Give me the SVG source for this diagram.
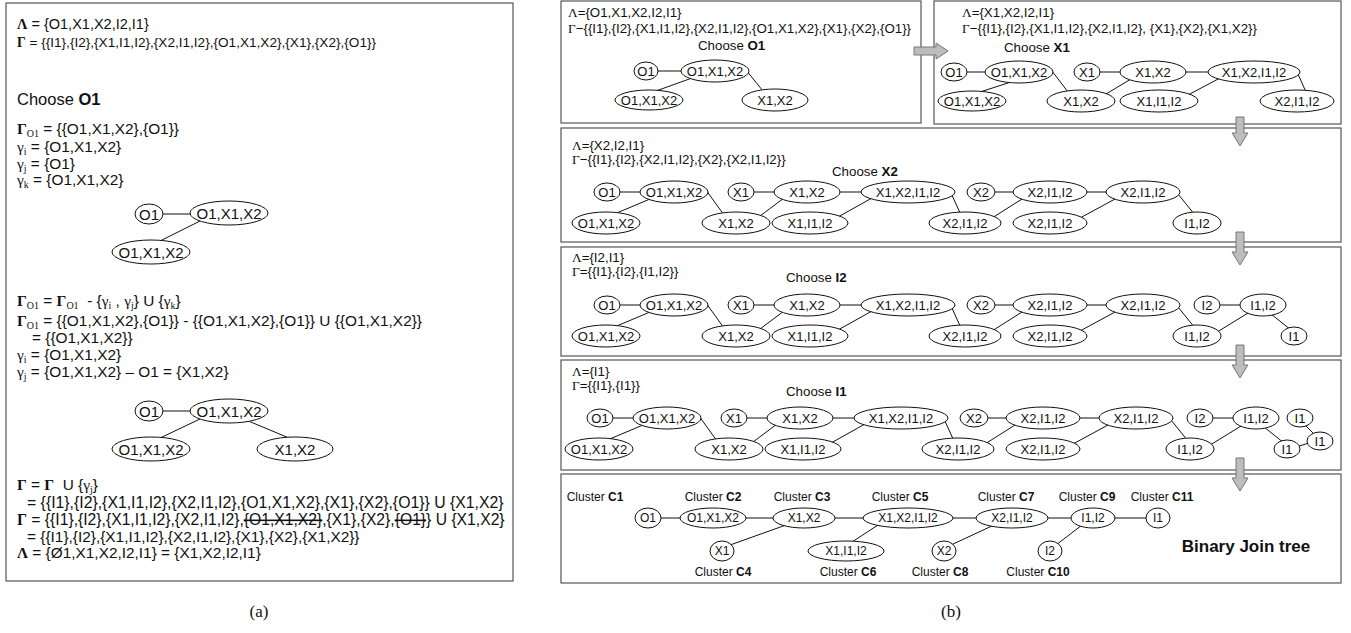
<svg xmlns="http://www.w3.org/2000/svg" width="1351" height="633" viewBox="0 0 1351 633">
<style>
text{font-family:"Liberation Sans",Arial,Helvetica,sans-serif;fill:#111}
.t{font-size:15.4px}
.p{font-size:13.3px}
.g{font-family:"Liberation Serif","Times New Roman",serif}
.gb{font-family:"Liberation Serif","Times New Roman",serif;font-weight:bold}
.sub{font-family:"Liberation Serif","Times New Roman",serif;font-size:10px}
.bs{font-family:"Liberation Serif","Times New Roman",serif;font-size:10px;baseline-shift:-3px}
.b{font-weight:bold}
.s{text-decoration:line-through}
.box{fill:none;stroke:#555;stroke-width:1.2}
.arr{fill:#bdbdbd;stroke:#777;stroke-width:1}
.n ellipse{fill:#fff;stroke:#111;stroke-width:1}
.n text{font-size:13px;text-anchor:middle}
.L text{font-size:15px}
.R text{font-size:12px}
.c line{stroke:#111;stroke-width:1}
.cl{font-size:12px;text-anchor:middle}
.cap{font-family:"Liberation Serif","Times New Roman",serif;font-size:17px;text-anchor:middle}
</style>

<!-- frames -->
<g id="frames">
<rect class="box" x="6" y="3" width="507" height="578"/>
<rect class="box" x="561" y="1" width="360" height="122"/>
<rect class="box" x="934" y="1" width="407" height="123"/>
<rect class="box" x="561" y="128" width="780" height="114"/>
<rect class="box" x="561" y="247" width="780" height="109"/>
<rect class="box" x="561" y="360" width="780" height="110"/>
<rect class="box" x="561" y="474" width="780" height="109"/>
</g>

<!-- left panel texts -->
<g id="panel-a-text">
<text class="t" x="17" y="29" style="font-size:14.5px"><tspan class="gb">Λ</tspan> = {O1,X1,X2,I2,I1}</text>
<text class="t" x="17" y="47" style="font-size:13.6px"><tspan class="gb">Γ</tspan> = {{I1},{I2},{X1,I1,I2},{X2,I1,I2},{O1,X1,X2},{X1},{X2},{O1}}</text>
<text class="t" x="17" y="105" style="font-size:16.5px">Choose <tspan class="b">O1</tspan></text>
<text class="t" x="17" y="134"><tspan class="gb">Γ</tspan><tspan class="sub" dy="3">O1</tspan><tspan dy="-3"> = {{O1,X1,X2},{O1}}</tspan></text>
<text class="t" x="17" y="152"><tspan class="g">γ</tspan><tspan class="sub" dy="3">i</tspan><tspan dy="-3"> = {O1,X1,X2}</tspan></text>
<text class="t" x="17" y="169"><tspan class="g">γ</tspan><tspan class="sub" dy="3">j</tspan><tspan dy="-3"> = {O1}</tspan></text>
<text class="t" x="17" y="185"><tspan class="g">γ</tspan><tspan class="sub" dy="3">k</tspan><tspan dy="-3"> = {O1,X1,X2}</tspan></text>

<text class="t" x="17" y="306"><tspan class="gb">Γ</tspan><tspan class="bs">O1</tspan> = <tspan class="gb">Γ</tspan><tspan class="bs">O1</tspan> &#160;- {<tspan class="g">γ</tspan><tspan class="bs">i</tspan> , <tspan class="g">γ</tspan><tspan class="bs">j</tspan>} U {<tspan class="g">γ</tspan><tspan class="bs">k</tspan>}</text>
<text class="t" x="17" y="326"><tspan class="gb">Γ</tspan><tspan class="sub" dy="3">O1</tspan><tspan dy="-3"> = {{O1,X1,X2},{O1}} - {{O1,X1,X2},{O1}} U {{O1,X1,X2}}</tspan></text>
<text class="t" x="32" y="343">= {{O1,X1,X2}}</text>
<text class="t" x="17" y="360"><tspan class="g">γ</tspan><tspan class="sub" dy="3">i</tspan><tspan dy="-3"> = {O1,X1,X2}</tspan></text>
<text class="t" x="17" y="377"><tspan class="g">γ</tspan><tspan class="sub" dy="3">j</tspan><tspan dy="-3"> = {O1,X1,X2} – O1 = {X1,X2}</tspan></text>

<text class="t" x="17" y="490"><tspan class="gb">Γ</tspan> = <tspan class="gb">Γ</tspan> &#160;U {<tspan class="g">γ</tspan><tspan class="sub" dy="3">j</tspan><tspan dy="-3">}</tspan></text>
<text class="t" x="27" y="508" style="font-size:15.8px">= {{I1},{I2},{X1,I1,I2},{X2,I1,I2},{O1,X1,X2},{X1},{X2},{O1}} U {X1,X2}</text>
<text class="t" x="17" y="525" style="font-size:15.7px"><tspan class="gb">Γ</tspan> = {{I1},{I2},{X1,I1,I2},{X2,I1,I2},<tspan class="s">{O1,X1,X2}</tspan>,{X1},{X2},<tspan class="s">{O1}</tspan>} U {X1,X2}</text>
<text class="t" x="27" y="542">= {{I1},{I2},{X1,I1,I2},{X2,I1,I2},{X1},{X2},{X1,X2}}</text>
<text class="t" x="17" y="558"><tspan class="gb">Λ</tspan> = {Ø1,X1,X2,I2,I1} = {X1,X2,I2,I1}</text>
</g>

<!-- right panel texts -->
<g id="panel-b-text">
<text class="p" x="568" y="17"><tspan class="g">Λ</tspan>={O1,X1,X2,I2,I1}</text>
<text class="p" x="568" y="33"><tspan class="g">Γ</tspan>−{{I1},{I2},{X1,I1,I2},{X2,I1,I2},{O1,X1,X2},{X1},{X2},{O1}}</text>
<text class="p" x="698" y="50">Choose <tspan class="b">O1</tspan></text>

<text class="p" x="962" y="17"><tspan class="g">Λ</tspan>={X1,X2,I2,I1}</text>
<text class="p" x="962" y="33"><tspan class="g">Γ</tspan>−{{I1},{I2},{X1,I1,I2},{X2,I1,I2}, {X1},{X2},{X1,X2}}</text>
<text class="p" x="1004" y="52">Choose <tspan class="b">X1</tspan></text>

<text class="p" x="572" y="150"><tspan class="g">Λ</tspan>={X2,I2,I1}</text>
<text class="p" x="572" y="164"><tspan class="g">Γ</tspan>−{{I1},{I2},{X2,I1,I2},{X2},{X2,I1,I2}}</text>
<text class="p" x="832" y="176">Choose <tspan class="b">X2</tspan></text>

<text class="p" x="572" y="262"><tspan class="g">Λ</tspan>={I2,I1}</text>
<text class="p" x="572" y="276"><tspan class="g">Γ</tspan>={{I1},{I2},{I1,I2}}</text>
<text class="p" x="786" y="282">Choose <tspan class="b">I2</tspan></text>

<text class="p" x="572" y="376"><tspan class="g">Λ</tspan>={I1}</text>
<text class="p" x="572" y="390"><tspan class="g">Γ</tspan>={{I1},{I1}}</text>
<text class="p" x="786" y="396">Choose <tspan class="b">I1</tspan></text>

<text x="1246" y="552" style="font-size:17px;font-weight:bold;text-anchor:middle">Binary Join tree</text>
</g>

<!-- arrows -->
<g id="arrows">
<polygon class="arr" points="914,47 936,47 936,43 948,51 936,59 936,55 914,55"/>
<polygon class="arr" points="1236,117 1244,117 1244,133 1248,133 1240,146 1232,133 1236,133"/>
<polygon class="arr" points="1236,232 1244,232 1244,252 1248,252 1240,265 1232,252 1236,252"/>
<polygon class="arr" points="1236,345 1244,345 1244,365 1248,365 1240,378 1232,365 1236,365"/>
<polygon class="arr" points="1236,458 1244,458 1244,478 1248,478 1240,491 1232,478 1236,478"/>
</g>

<!-- connectors -->
<g id="connectors" class="c">
<g id="c-a1"><line x1="161" y1="214" x2="192" y2="214"/><line x1="202" y1="220" x2="160" y2="241"/></g>
<g id="c-a2"><line x1="161" y1="411" x2="192" y2="411"/><line x1="200" y1="419" x2="160" y2="438"/><line x1="246" y1="420" x2="289" y2="438"/></g>
<g id="c-p1"><line x1="656" y1="71" x2="683" y2="71"/><line x1="692" y1="78" x2="656" y2="91"/><line x1="746" y1="70" x2="763" y2="91"/></g>
<g id="c-p2"><line x1="965" y1="72" x2="987" y2="72"/><line x1="1011" y1="82" x2="980" y2="92"/><line x1="1052" y1="71" x2="1068" y2="92"/><line x1="1098" y1="72" x2="1122" y2="72"/><line x1="1106" y1="94" x2="1131" y2="79"/><line x1="1184" y1="72" x2="1210" y2="72"/><line x1="1188" y1="95" x2="1220" y2="78"/><line x1="1298" y1="74" x2="1306" y2="92"/></g>
<g id="c-r2">
<line x1="618" y1="192" x2="642" y2="192"/><line x1="650" y1="199" x2="612" y2="215"/><line x1="706" y1="190" x2="724" y2="215"/><line x1="752" y1="192" x2="776" y2="192"/><line x1="760" y1="216" x2="784" y2="198"/><line x1="838" y1="192" x2="863" y2="192"/><line x1="838" y1="217" x2="872" y2="198"/><line x1="951" y1="193" x2="961" y2="215"/><line x1="993" y1="192" x2="1015" y2="192"/><line x1="992" y1="218" x2="1022" y2="199"/><line x1="1085" y1="192" x2="1108" y2="192"/><line x1="1080" y1="218" x2="1115" y2="199"/><line x1="1178" y1="194" x2="1195" y2="215"/>
</g>
<g id="c-r3" transform="translate(0,113)">
<line x1="618" y1="192" x2="642" y2="192"/><line x1="650" y1="199" x2="612" y2="215"/><line x1="706" y1="190" x2="724" y2="215"/><line x1="752" y1="192" x2="776" y2="192"/><line x1="760" y1="216" x2="784" y2="198"/><line x1="838" y1="192" x2="863" y2="192"/><line x1="838" y1="217" x2="872" y2="198"/><line x1="951" y1="193" x2="961" y2="215"/><line x1="993" y1="192" x2="1015" y2="192"/><line x1="992" y1="218" x2="1022" y2="199"/><line x1="1085" y1="192" x2="1108" y2="192"/><line x1="1080" y1="218" x2="1115" y2="199"/><line x1="1178" y1="194" x2="1195" y2="215"/>
<line x1="1218" y1="192" x2="1242" y2="192"/><line x1="1214" y1="221" x2="1248" y2="200"/><line x1="1271" y1="201" x2="1291" y2="217"/>
</g>
<g id="c-r4" transform="translate(-7,226)">
<line x1="618" y1="192" x2="642" y2="192"/><line x1="650" y1="199" x2="612" y2="215"/><line x1="706" y1="190" x2="724" y2="215"/><line x1="752" y1="192" x2="776" y2="192"/><line x1="760" y1="216" x2="784" y2="198"/><line x1="838" y1="192" x2="863" y2="192"/><line x1="838" y1="217" x2="872" y2="198"/><line x1="951" y1="193" x2="961" y2="215"/><line x1="993" y1="192" x2="1015" y2="192"/><line x1="992" y1="218" x2="1022" y2="199"/><line x1="1085" y1="192" x2="1108" y2="192"/><line x1="1080" y1="218" x2="1115" y2="199"/><line x1="1178" y1="194" x2="1195" y2="215"/>
<line x1="1218" y1="192" x2="1242" y2="192"/><line x1="1214" y1="221" x2="1248" y2="200"/><line x1="1271" y1="201" x2="1291" y2="217"/>
<line x1="1312" y1="199" x2="1322" y2="209"/><line x1="1303" y1="221" x2="1316" y2="217"/>
</g>
<g id="c-r5">
<line x1="659" y1="518" x2="682" y2="518"/><line x1="744" y1="518" x2="775" y2="518"/><line x1="833" y1="518" x2="865" y2="518"/><line x1="951" y1="518" x2="978" y2="518"/><line x1="1046" y1="518" x2="1073" y2="518"/><line x1="1113" y1="518" x2="1148" y2="518"/>
<line x1="730" y1="545" x2="786" y2="525"/><line x1="852" y1="542" x2="878" y2="525"/><line x1="951" y1="545" x2="994" y2="525"/><line x1="1056" y1="545" x2="1082" y2="525"/>
</g>
</g>

<!-- left panel nodes -->
<g id="nodes-a1">
<g id="a1-o1" class="n L"><ellipse cx="149" cy="214" rx="14" ry="10"/><text x="149" y="219.5">O1</text></g>
<g id="a1-oxx" class="n L"><ellipse cx="229" cy="213" rx="39" ry="12"/><text x="229" y="218.5">O1,X1,X2</text></g>
<g id="a1-oxxb" class="n L"><ellipse cx="151" cy="252" rx="39" ry="12"/><text x="151" y="257.5">O1,X1,X2</text></g>
</g>
<g id="nodes-a2">
<g id="a2-o1" class="n L"><ellipse cx="149" cy="411" rx="14" ry="10"/><text x="149" y="416.5">O1</text></g>
<g id="a2-oxx" class="n L"><ellipse cx="229" cy="411" rx="39" ry="12"/><text x="229" y="416.5">O1,X1,X2</text></g>
<g id="a2-oxxb" class="n L"><ellipse cx="151" cy="449" rx="39" ry="12"/><text x="151" y="454.5">O1,X1,X2</text></g>
<g id="a2-xx" class="n L"><ellipse cx="295" cy="449" rx="38" ry="12"/><text x="295" y="454.5">X1,X2</text></g>
</g>

<!-- panel 1 nodes -->
<g id="nodes-p1">
<g id="p1-o1" class="n"><ellipse cx="646" cy="71" rx="12" ry="9"/><text x="646" y="75.5">O1</text></g>
<g id="p1-oxx" class="n"><ellipse cx="715" cy="71" rx="34" ry="11"/><text x="715" y="75.5">O1,X1,X2</text></g>
<g id="p1-oxxb" class="n"><ellipse cx="649" cy="100" rx="34" ry="10"/><text x="649" y="104.5">O1,X1,X2</text></g>
<g id="p1-xx" class="n"><ellipse cx="775" cy="100" rx="33" ry="11"/><text x="775" y="104.5">X1,X2</text></g>
</g>

<!-- panel 2 nodes -->
<g id="nodes-p2">
<g id="p2-o1" class="n"><ellipse cx="954" cy="72" rx="13" ry="9"/><text x="954" y="76.5">O1</text></g>
<g id="p2-oxx" class="n"><ellipse cx="1019" cy="72" rx="34" ry="11"/><text x="1019" y="76.5">O1,X1,X2</text></g>
<g id="p2-oxxb" class="n"><ellipse cx="972" cy="101" rx="34" ry="10"/><text x="972" y="105.5">O1,X1,X2</text></g>
<g id="p2-x1" class="n"><ellipse cx="1087" cy="72" rx="13" ry="9"/><text x="1087" y="76.5">X1</text></g>
<g id="p2-xx" class="n"><ellipse cx="1153" cy="72" rx="33" ry="11"/><text x="1153" y="76.5">X1,X2</text></g>
<g id="p2-xxii" class="n"><ellipse cx="1254" cy="72" rx="46" ry="11"/><text x="1254" y="76.5">X1,X2,I1,I2</text></g>
<g id="p2-xxb" class="n"><ellipse cx="1081" cy="101" rx="34" ry="11"/><text x="1081" y="105.5">X1,X2</text></g>
<g id="p2-xii" class="n"><ellipse cx="1159" cy="101" rx="39" ry="11"/><text x="1159" y="105.5">X1,I1,I2</text></g>
<g id="p2-x2ii" class="n"><ellipse cx="1297" cy="101" rx="37" ry="11"/><text x="1297" y="105.5">X2,I1,I2</text></g>
</g>

<!-- row 2 nodes -->
<g id="nodes-r2">
<g id="r2-o1" class="n"><ellipse cx="607" cy="192" rx="13" ry="9"/><text x="607" y="196.5">O1</text></g>
<g id="r2-oxx" class="n"><ellipse cx="674" cy="192" rx="34" ry="11"/><text x="674" y="196.5">O1,X1,X2</text></g>
<g id="r2-oxxb" class="n"><ellipse cx="606" cy="223" rx="34" ry="11"/><text x="606" y="227.5">O1,X1,X2</text></g>
<g id="r2-x1" class="n"><ellipse cx="741" cy="192" rx="13" ry="9"/><text x="741" y="196.5">X1</text></g>
<g id="r2-xx" class="n"><ellipse cx="807" cy="192" rx="33" ry="11"/><text x="807" y="196.5">X1,X2</text></g>
<g id="r2-xxii" class="n"><ellipse cx="908" cy="192" rx="47" ry="11"/><text x="908" y="196.5">X1,X2,I1,I2</text></g>
<g id="r2-xxb" class="n"><ellipse cx="736" cy="223" rx="34" ry="11"/><text x="736" y="227.5">X1,X2</text></g>
<g id="r2-xii" class="n"><ellipse cx="810" cy="223" rx="38" ry="11"/><text x="810" y="227.5">X1,I1,I2</text></g>
<g id="r2-x2iib" class="n"><ellipse cx="965" cy="223" rx="36" ry="11"/><text x="965" y="227.5">X2,I1,I2</text></g>
<g id="r2-x2" class="n"><ellipse cx="981" cy="192" rx="14" ry="9"/><text x="981" y="196.5">X2</text></g>
<g id="r2-x2iia" class="n"><ellipse cx="1050" cy="192" rx="37" ry="11"/><text x="1050" y="196.5">X2,I1,I2</text></g>
<g id="r2-x2iic" class="n"><ellipse cx="1143" cy="192" rx="37" ry="11"/><text x="1143" y="196.5">X2,I1,I2</text></g>
<g id="r2-x2iid" class="n"><ellipse cx="1050" cy="223" rx="37" ry="11"/><text x="1050" y="227.5">X2,I1,I2</text></g>
<g id="r2-iib" class="n"><ellipse cx="1197" cy="223" rx="24" ry="11"/><text x="1197" y="227.5">I1,I2</text></g>
</g>

<!-- row 3 nodes -->
<g id="nodes-r3" transform="translate(0,113)">
<g id="r3-o1" class="n"><ellipse cx="607" cy="192" rx="13" ry="9"/><text x="607" y="196.5">O1</text></g>
<g id="r3-oxx" class="n"><ellipse cx="674" cy="192" rx="34" ry="11"/><text x="674" y="196.5">O1,X1,X2</text></g>
<g id="r3-oxxb" class="n"><ellipse cx="606" cy="223" rx="34" ry="11"/><text x="606" y="227.5">O1,X1,X2</text></g>
<g id="r3-x1" class="n"><ellipse cx="741" cy="192" rx="13" ry="9"/><text x="741" y="196.5">X1</text></g>
<g id="r3-xx" class="n"><ellipse cx="807" cy="192" rx="33" ry="11"/><text x="807" y="196.5">X1,X2</text></g>
<g id="r3-xxii" class="n"><ellipse cx="908" cy="192" rx="47" ry="11"/><text x="908" y="196.5">X1,X2,I1,I2</text></g>
<g id="r3-xxb" class="n"><ellipse cx="736" cy="223" rx="34" ry="11"/><text x="736" y="227.5">X1,X2</text></g>
<g id="r3-xii" class="n"><ellipse cx="810" cy="223" rx="38" ry="11"/><text x="810" y="227.5">X1,I1,I2</text></g>
<g id="r3-x2iib" class="n"><ellipse cx="965" cy="223" rx="36" ry="11"/><text x="965" y="227.5">X2,I1,I2</text></g>
<g id="r3-x2" class="n"><ellipse cx="981" cy="192" rx="14" ry="9"/><text x="981" y="196.5">X2</text></g>
<g id="r3-x2iia" class="n"><ellipse cx="1050" cy="192" rx="37" ry="11"/><text x="1050" y="196.5">X2,I1,I2</text></g>
<g id="r3-x2iic" class="n"><ellipse cx="1143" cy="192" rx="37" ry="11"/><text x="1143" y="196.5">X2,I1,I2</text></g>
<g id="r3-x2iid" class="n"><ellipse cx="1050" cy="223" rx="37" ry="11"/><text x="1050" y="227.5">X2,I1,I2</text></g>
<g id="r3-iib" class="n"><ellipse cx="1197" cy="223" rx="24" ry="11"/><text x="1197" y="227.5">I1,I2</text></g>
<g id="r3-i2" class="n"><ellipse cx="1207" cy="192" rx="13" ry="9"/><text x="1207" y="196.5">I2</text></g>
<g id="r3-iit" class="n"><ellipse cx="1263" cy="192" rx="23" ry="11"/><text x="1263" y="196.5">I1,I2</text></g>
<g id="r3-i1" class="n"><ellipse cx="1294" cy="223" rx="13" ry="9"/><text x="1294" y="227.5">I1</text></g>
</g>

<!-- row 4 nodes -->
<g id="nodes-r4" transform="translate(-7,226)">
<g id="r4-o1" class="n"><ellipse cx="607" cy="192" rx="13" ry="9"/><text x="607" y="196.5">O1</text></g>
<g id="r4-oxx" class="n"><ellipse cx="674" cy="192" rx="34" ry="11"/><text x="674" y="196.5">O1,X1,X2</text></g>
<g id="r4-oxxb" class="n"><ellipse cx="606" cy="223" rx="34" ry="11"/><text x="606" y="227.5">O1,X1,X2</text></g>
<g id="r4-x1" class="n"><ellipse cx="741" cy="192" rx="13" ry="9"/><text x="741" y="196.5">X1</text></g>
<g id="r4-xx" class="n"><ellipse cx="807" cy="192" rx="33" ry="11"/><text x="807" y="196.5">X1,X2</text></g>
<g id="r4-xxii" class="n"><ellipse cx="908" cy="192" rx="47" ry="11"/><text x="908" y="196.5">X1,X2,I1,I2</text></g>
<g id="r4-xxb" class="n"><ellipse cx="736" cy="223" rx="34" ry="11"/><text x="736" y="227.5">X1,X2</text></g>
<g id="r4-xii" class="n"><ellipse cx="810" cy="223" rx="38" ry="11"/><text x="810" y="227.5">X1,I1,I2</text></g>
<g id="r4-x2iib" class="n"><ellipse cx="965" cy="223" rx="36" ry="11"/><text x="965" y="227.5">X2,I1,I2</text></g>
<g id="r4-x2" class="n"><ellipse cx="981" cy="192" rx="14" ry="9"/><text x="981" y="196.5">X2</text></g>
<g id="r4-x2iia" class="n"><ellipse cx="1050" cy="192" rx="37" ry="11"/><text x="1050" y="196.5">X2,I1,I2</text></g>
<g id="r4-x2iic" class="n"><ellipse cx="1143" cy="192" rx="37" ry="11"/><text x="1143" y="196.5">X2,I1,I2</text></g>
<g id="r4-x2iid" class="n"><ellipse cx="1050" cy="223" rx="37" ry="11"/><text x="1050" y="227.5">X2,I1,I2</text></g>
<g id="r4-iib" class="n"><ellipse cx="1197" cy="223" rx="24" ry="11"/><text x="1197" y="227.5">I1,I2</text></g>
<g id="r4-i2" class="n"><ellipse cx="1207" cy="192" rx="13" ry="9"/><text x="1207" y="196.5">I2</text></g>
<g id="r4-iit" class="n"><ellipse cx="1263" cy="192" rx="23" ry="11"/><text x="1263" y="196.5">I1,I2</text></g>
<g id="r4-i1" class="n"><ellipse cx="1294" cy="223" rx="13" ry="9"/><text x="1294" y="227.5">I1</text></g>
<g id="r4-i1t" class="n"><ellipse cx="1307" cy="192" rx="13" ry="9"/><text x="1307" y="196.5">I1</text></g>
<g id="r4-i1m" class="n"><ellipse cx="1327" cy="215" rx="13" ry="9"/><text x="1327" y="219.5">I1</text></g>
</g>

<!-- row 5: binary join tree -->
<g id="nodes-r5">
<g id="C1" class="n R"><ellipse cx="648" cy="518" rx="13" ry="10"/><text x="648" y="522">O1</text></g>
<g id="C2" class="n R"><ellipse cx="713" cy="518" rx="33" ry="10"/><text x="713" y="522">O1,X1,X2</text></g>
<g id="C3" class="n R"><ellipse cx="804" cy="518" rx="31" ry="10"/><text x="804" y="522">X1,X2</text></g>
<g id="C5" class="n R"><ellipse cx="908" cy="518" rx="45" ry="10"/><text x="908" y="522">X1,X2,I1,I2</text></g>
<g id="C7" class="n R"><ellipse cx="1012" cy="518" rx="36" ry="10"/><text x="1012" y="522">X2,I1,I2</text></g>
<g id="C9" class="n R"><ellipse cx="1093" cy="518" rx="22" ry="10"/><text x="1093" y="522">I1,I2</text></g>
<g id="C11" class="n R"><ellipse cx="1158" cy="518" rx="12" ry="10"/><text x="1158" y="522">I1</text></g>
<g id="C4" class="n R"><ellipse cx="722" cy="551" rx="12" ry="10"/><text x="722" y="555">X1</text></g>
<g id="C6" class="n R"><ellipse cx="846" cy="551" rx="38" ry="10"/><text x="846" y="555">X1,I1,I2</text></g>
<g id="C8" class="n R"><ellipse cx="944" cy="551" rx="12" ry="10"/><text x="944" y="555">X2</text></g>
<g id="C10" class="n R"><ellipse cx="1050" cy="551" rx="12" ry="10"/><text x="1050" y="555">I2</text></g>
</g>
<g id="cluster-labels">
<text class="cl" x="595" y="501">Cluster <tspan class="b">C1</tspan></text>
<text class="cl" x="713" y="501">Cluster <tspan class="b">C2</tspan></text>
<text class="cl" x="802" y="501">Cluster <tspan class="b">C3</tspan></text>
<text class="cl" x="900" y="501">Cluster <tspan class="b">C5</tspan></text>
<text class="cl" x="1006" y="501">Cluster <tspan class="b">C7</tspan></text>
<text class="cl" x="1087" y="501">Cluster <tspan class="b">C9</tspan></text>
<text class="cl" x="1162" y="501">Cluster <tspan class="b">C11</tspan></text>
<text class="cl" x="723" y="576">Cluster <tspan class="b">C4</tspan></text>
<text class="cl" x="848" y="576">Cluster <tspan class="b">C6</tspan></text>
<text class="cl" x="940" y="576">Cluster <tspan class="b">C8</tspan></text>
<text class="cl" x="1038" y="576">Cluster <tspan class="b">C10</tspan></text>
</g>

<text class="cap" x="259" y="617">(a)</text>
<text class="cap" x="951" y="617">(b)</text>
</svg>
